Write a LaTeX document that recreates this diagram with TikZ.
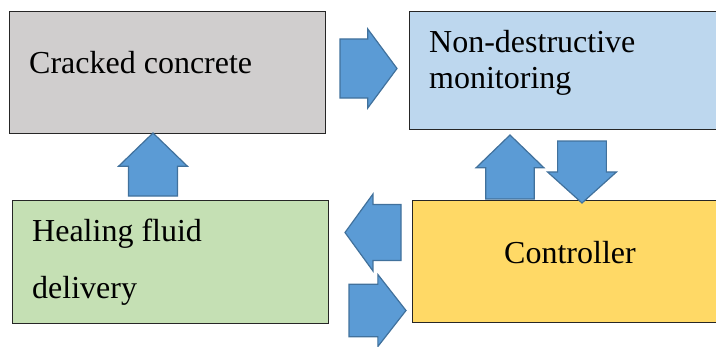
\documentclass[tikz,border=0pt]{standalone}
\usepackage{fontspec}
\setmainfont{Liberation Serif}
\usetikzlibrary{shapes.arrows,calc}

\definecolor{crackgray}{HTML}{D0CECE}
\definecolor{monblue}{HTML}{BDD7EE}
\definecolor{healgreen}{HTML}{C5E0B4}
\definecolor{ctrlyellow}{HTML}{FFD966}
\definecolor{arrowblue}{HTML}{5B9BD5}
\definecolor{arrowedge}{HTML}{41719C}

\begin{document}
\begin{tikzpicture}[x=1pt, y=-1pt,
  box/.style={rectangle, draw=black!85, line width=0.8pt, inner sep=0pt, outer sep=0pt},
  boxtext/.style={anchor=base west, inner sep=0pt, align=left, font=\fontsize{32}{36}\selectfont},
  blockarrow/.style={single arrow, draw=arrowedge, fill=arrowblue, line width=1.2pt,
    anchor=tail, inner xsep=0pt, outer sep=0pt, single arrow tip angle=100}]
  \useasboundingbox (0,0) rectangle (716,346);

  % the four stages
  \node[box, fill=crackgray, minimum width=316, minimum height=122] (crack) at (167,72) {};
  \node[box, fill=monblue, minimum width=311, minimum height=118] (monitor) at (564.5,70) {};
  \node[box, fill=healgreen, minimum width=316, minimum height=123] (heal) at (170,261.5) {};
  \node[box, fill=ctrlyellow, minimum width=308, minimum height=122] (ctrl) at (566,261) {};

  % texts (base = last line)
  \node[boxtext] (cracktext) at ($(crack.north west)+(20,62)$) {Cracked concrete};
  \node[boxtext] (montext) at ($(monitor.north west)+(20,77)$) {Non-destructive\\monitoring};
  \node[boxtext, font=\fontsize{32}{57}\selectfont] (healtext) at ($(heal.north west)+(20,98)$) {Healing fluid\\delivery};
  \node[boxtext, anchor=base] (ctrltext) at ($(ctrl.north west)+(158,63)$) {Controller};

  % block arrows
  \node[blockarrow, inner ysep=20.5, minimum width=79, minimum height=57, single arrow tip angle=107] (crack2mon) at (340,68.5) {};
  \node[blockarrow, rotate=90, inner ysep=17, minimum width=69, minimum height=63, single arrow tip angle=92] (heal2crack) at (153,196) {};
  \node[blockarrow, rotate=90, inner ysep=17, minimum width=68, minimum height=64, single arrow tip angle=92] (ctrl2mon) at (510,199) {};
  \node[blockarrow, rotate=-90, inner ysep=16.5, minimum width=69, minimum height=62, single arrow tip angle=96] (mon2ctrl) at (582,141) {};
  \node[blockarrow, rotate=180, inner ysep=18.5, minimum width=77, minimum height=56, single arrow tip angle=108] (ctrl2heal) at (401,232.5) {};
  \node[blockarrow, inner ysep=18.5, minimum width=72, minimum height=57, single arrow tip angle=104] (heal2ctrl) at (349,310.5) {};
\end{tikzpicture}
\end{document}
